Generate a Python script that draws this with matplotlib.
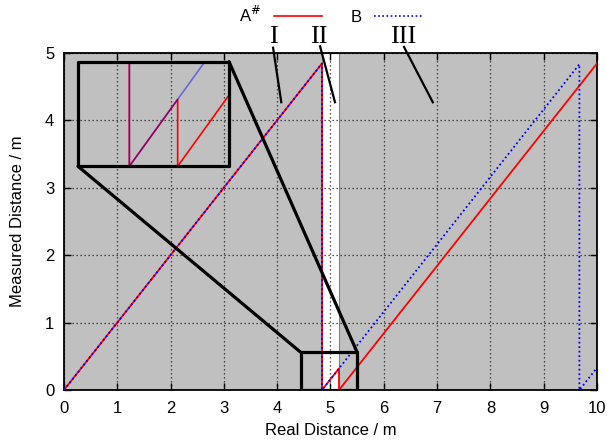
import matplotlib
matplotlib.use("Agg")
import matplotlib.pyplot as plt
from matplotlib.patches import Rectangle, ConnectionPatch
from matplotlib.lines import Line2D

# ---- data ----
a_x = [0, 4.84, 4.84, 5.16, 5.16, 10]
a_y = [0, 4.84, 0, 0.32, 0, 4.84]
b_x = [0, 4.84, 4.84, 9.67, 9.67, 10]
b_y = [0, 4.84, 0, 4.83, 0, 0.33]
region_ii = (4.84, 5.16)
zoom_x = (4.44, 5.50)
zoom_y = (0.0, 0.56)
inset_xlim = (4.5, 5.5)
inset_ylim = (0.0, 0.5)
xticks = [0, 1, 2, 3, 4, 5, 6, 7, 8, 9, 10]
yticks = [0, 1, 2, 3, 4, 5]
region_labels = ["I", "II", "III"]
label_text_x = [3.93, 4.79, 6.36]
label_line_start = [(3.92, 5.09), (4.80, 5.11), (6.37, 5.10)]
label_line_end = [(4.08, 4.25), (5.09, 4.25), (6.93, 4.25)]

RED = "#ff0000"
BLUE = "#0000ff"

plt.rcParams['font.family'] = ['Liberation Sans', 'DejaVu Sans']

fig = plt.figure(figsize=(6.07, 4.43), dpi=100)
ax = fig.add_axes([0.1054, 0.1196, 0.8781, 0.7614])
ax.set_facecolor("#c0c0c0")
ax.set_xlim(0, 10)
ax.set_ylim(0, 5)
ax.set_xticks(xticks)
ax.set_yticks(yticks)
ax.set_axisbelow(True)
ax.grid(True, color="#202020", linestyle=(0, (1, 2.2)), linewidth=0.9, zorder=0.5)
ax.tick_params(direction="in", length=5, width=1, top=True, right=True,
               labelsize=12, pad=8)
ax.tick_params(axis="y", pad=7)
for s in ax.spines.values():
    s.set_linewidth(1.3)
    s.set_color("black")

ax.axvspan(region_ii[0], region_ii[1], facecolor="white", edgecolor="#808080",
           linewidth=0.8, zorder=0.3)

ax.plot(a_x, a_y, color=RED, lw=1.3, zorder=3)
ax.plot(b_x, b_y, color=BLUE, lw=1.3, linestyle=(0, (1, 1.5)), zorder=4)

ax.set_xlabel("Real Distance / m", fontsize=12, labelpad=5)
ax.set_ylabel("Measured Distance / m", fontsize=12, labelpad=14)

# zoom box
ax.add_patch(Rectangle((zoom_x[0], zoom_y[0]), zoom_x[1] - zoom_x[0],
                       zoom_y[1] - zoom_y[0], fill=False, edgecolor="black",
                       lw=2.3, joinstyle="round", zorder=6))

# region labels
for lab, tx, p0, p1 in zip(region_labels, label_text_x, label_line_start, label_line_end):
    ax.text(tx, 5.14, lab, family=["Liberation Serif", "DejaVu Serif"],
            fontsize=19, ha="center", va="baseline", clip_on=False)
    ax.plot([p0[0], p1[0]], [p0[1], p1[1]], color="black", lw=1.6,
            clip_on=False, solid_capstyle="butt", zorder=6)

# inset
axins = fig.add_axes([0.1285, 0.6246, 0.2488, 0.2361])
axins.patch.set_alpha(0)
axins.set_xlim(*inset_xlim)
axins.set_ylim(*inset_ylim)
axins.set_xticks([])
axins.set_yticks([])
for s in axins.spines.values():
    s.set_visible(False)
axins.plot(a_x, a_y, color=RED, lw=1.2, zorder=3)
axins.plot(b_x, b_y, color=BLUE, lw=1.2, alpha=0.45, zorder=4)
axins.add_patch(Rectangle((0, 0), 1, 1, transform=axins.transAxes, fill=False,
                          edgecolor="black", lw=2.3, joinstyle="round",
                          clip_on=False, zorder=6))

for ca, cb in [((0, 0), (zoom_x[0], zoom_y[1])), ((1, 1), (zoom_x[1], zoom_y[1]))]:
    cp = ConnectionPatch(xyA=ca, coordsA=axins.transAxes, xyB=cb,
                         coordsB=ax.transData, color="black", lw=2.3,
                         capstyle="round", zorder=6)
    fig.add_artist(cp)

# legend
handles = [Line2D([], [], color=RED, lw=1.2),
           Line2D([], [], color=BLUE, lw=1.2, linestyle=(0, (1, 1.5)))]
fig.legend(handles, ["A$^{\\#}$", "B"], loc="center", bbox_to_anchor=(0.545, 0.966),
           ncol=2, frameon=False, fontsize=12, markerfirst=False,
           handlelength=2.9, handletextpad=0.75, columnspacing=1.7)

fig.savefig("out.png", dpi=100)
